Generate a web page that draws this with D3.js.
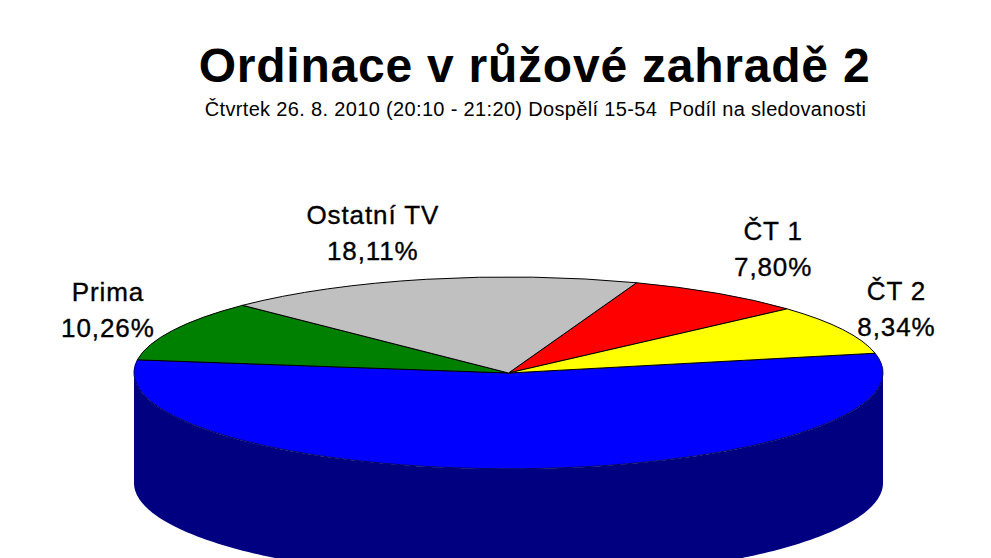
<!DOCTYPE html>
<html>
<head>
<meta charset="utf-8">
<script src="https://cdn.jsdelivr.net/npm/d3@7"></script>
<style>
  html, body { margin: 0; background: #fff; overflow: hidden; }
  text { font-family: "Liberation Sans", Arial, sans-serif; fill: #000; }
</style>
</head>
<body>
<div id="chart"></div>
<script>
// the blue slice has its label cut off in the picture, value is what's left of 100 %
const channels = ["ČT 1", "ČT 2", "Nova", "Prima", "Ostatní TV"];
const shares = [7.80, 8.34, 55.49, 10.26, 18.11];
const shareLabels = ["7,80%", "8,34%", null, "10,26%", "18,11%"];
const colors = ["#ff0000", "#ffff00", "#0000ff", "#008000", "#c0c0c0"];
const labelShift = [[55, -44], [54, -21], null, [-65, -20], [-54, -46]];

const title = "Ordinace v růžové zahradě 2";
const subtitle = "Čtvrtek 26. 8. 2010 (20:10 - 21:20) Dospělí 15-54  Podíl na sledovanosti";

const width = 991, height = 558;
const cx = 508.5, cy = 373, rx = 374.5, ry = 96, depth = 110;

const svg = d3.select("#chart").append("svg")
  .attr("width", width)
  .attr("height", height)
  .style("display", "block");

svg.append("text")
  .attr("x", 534.5).attr("y", 82)
  .attr("text-anchor", "middle")
  .attr("font-size", 48).attr("font-weight", "bold")
  .attr("letter-spacing", 0.77)
  .text(title);

svg.append("text")
  .attr("x", 535.5).attr("y", 116)
  .attr("text-anchor", "middle")
  .attr("font-size", 20)
  .attr("letter-spacing", 0.34)
  .style("white-space", "pre")
  .text(subtitle);

const pie = d3.pie().sort(null)
  .startAngle(20 * Math.PI / 180)
  .endAngle(380 * Math.PI / 180);
const slices = pie(shares);
const arc = d3.arc().innerRadius(0).outerRadius(1);

// side wall, only the front half of the disc shows
const wall = d3.area()
  .x(a => cx + rx * Math.sin(a))
  .y0(a => cy - ry * Math.cos(a))
  .y1(a => cy - ry * Math.cos(a) + depth);

svg.append("path")
  .attr("d", wall(d3.range(90, 270.5, 1).map(a => a * Math.PI / 180)))
  .attr("fill", "#000080");

const face = svg.append("g")
  .attr("transform", `translate(${cx},${cy}) scale(${rx},${ry})`);

// blue first so the neighbours' black edges sit on top of it
const order = [2, 0, 1, 3, 4];
face.selectAll("path")
  .data(order.map(i => slices[i]))
  .join("path")
  .attr("d", arc)
  .attr("fill", d => colors[d.index])
  .attr("stroke", d => d.index === 2 ? "#000060" : "#000")
  .attr("stroke-width", 1)
  .attr("vector-effect", "non-scaling-stroke");

const labels = svg.selectAll(".label")
  .data(slices.filter(d => shareLabels[d.index]))
  .join("text")
  .attr("class", "label")
  .attr("text-anchor", "middle")
  .attr("font-size", 26)
  .attr("letter-spacing", 0.9)
  .attr("stroke", "#000")
  .attr("stroke-width", 0.35)
  .attr("transform", d => {
    const mid = (d.startAngle + d.endAngle) / 2;
    const s = labelShift[d.index];
    return `translate(${cx + rx * Math.sin(mid) + s[0]},${cy - ry * Math.cos(mid) + s[1]})`;
  });

labels.append("tspan").attr("x", 0).attr("y", -9).text(d => channels[d.index]);
labels.append("tspan").attr("x", 0).attr("y", 27).text(d => shareLabels[d.index]);
</script>
</body>
</html>
